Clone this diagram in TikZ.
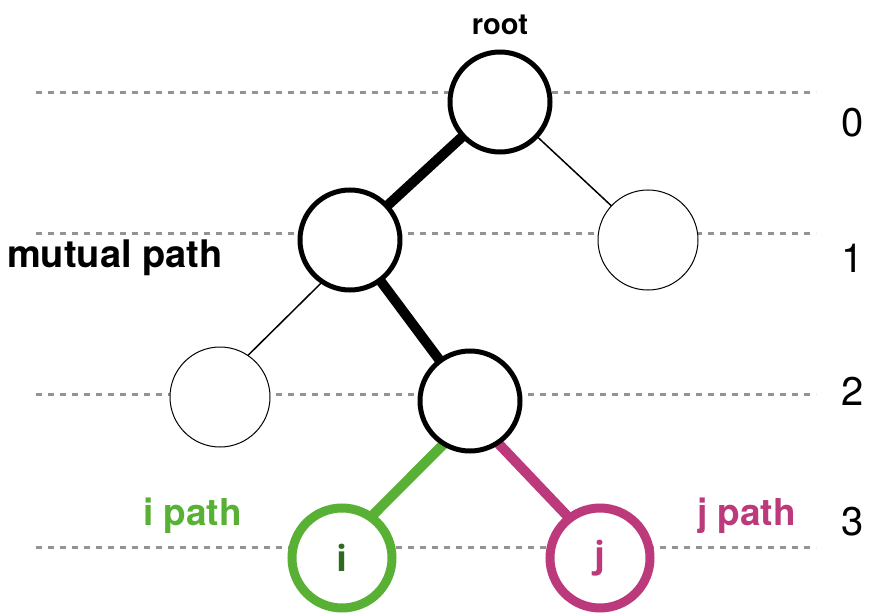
\documentclass[tikz,border=0pt]{standalone}
\usepackage{fontspec}
\setmainfont{TeX Gyre Heros}
\newfontfamily\osans{Open Sans}
\usetikzlibrary{backgrounds}
\definecolor{ipathgreen}{HTML}{58B134}
\definecolor{itextgreen}{HTML}{2E6B1F}
\definecolor{jpathmag}{HTML}{BC3A7B}
\definecolor{levelgray}{HTML}{939393}
\tikzset{
  treenode/.style={circle, draw=black, fill=white, minimum size=100pt, inner sep=0pt},
  boldnode/.style={treenode, line width=5pt},
  plainnode/.style={treenode, line width=1pt},
  inode/.style={treenode, draw=ipathgreen, line width=9pt, text=itextgreen, font=\osans\bfseries\fontsize{36}{36}\selectfont},
  jnode/.style={treenode, draw=jpathmag, line width=9pt, text=jpathmag, font=\osans\bfseries\fontsize{36}{36}\selectfont},
  levelline/.style={levelgray, line width=3pt, dash pattern=on 6pt off 6pt},
  thickedge/.style={line width=10pt, black},
  thinedge/.style={line width=1.5pt, black},
  colouredge/.style={line width=10pt, shorten <=-6pt, shorten >=-6pt},
  boldlabel/.style={font=\bfseries\fontsize{38}{38}\selectfont, inner sep=0pt},
  levelnum/.style={font=\fontsize{40}{40}\selectfont, inner sep=0pt, anchor=base},
}
\begin{document}
\begin{tikzpicture}[x=1pt, y=-1pt]
\useasboundingbox (0,0) rectangle (884,615);
% level lines
\draw[levelline] (36,93) -- (816,93);
\draw[levelline] (36,233) -- (816,233);
\draw[levelline] (36,394) -- (816,394);
\draw[levelline] (36,547) -- (816,547);
% nodes
\node[boldnode] (root) at (500,102) {};
\node[boldnode] (a) at (350,240) {};
\node[plainnode] (b) at (648,240) {};
\node[plainnode] (c) at (220,397) {};
\node[boldnode] (d) at (470,401) {};
\node[inode] (i) at (342,558) {i};
\node[jnode] (j) at (600,558) {j};
% edges
\begin{pgfonlayer}{background}
\draw[thickedge] (root.center) -- (a.center);
\draw[thinedge] (root.center) -- (b.center);
\draw[thinedge, shorten <=-6pt, shorten >=-6pt] (a.236) -- (c.56);
\draw[thickedge] (a.center) -- (d.center);
\draw[colouredge, ipathgreen] (d.238) -- (i.54);
\draw[colouredge, jpathmag] (d.304) -- (j.128);
\end{pgfonlayer}
% labels
\node[boldlabel, anchor=base, font=\bfseries\fontsize{29}{29}\selectfont] (rootlbl) at (500,35) {root};
\node[boldlabel, anchor=base west] (mutual) at (7,267) {mutual path};
\node[boldlabel, anchor=base west, text=ipathgreen, font=\bfseries\fontsize{37}{37}\selectfont] (ilbl) at (143,525) {i path};
\node[boldlabel, anchor=base west, text=jpathmag, font=\bfseries\fontsize{37}{37}\selectfont] (jlbl) at (697,525) {j path};
\node[levelnum] (l0) at (853,137) {0};
\node[levelnum] (l1) at (853,272) {1};
\node[levelnum] (l2) at (853,405) {2};
\node[levelnum] (l3) at (853,535) {3};
\end{tikzpicture}
\end{document}
